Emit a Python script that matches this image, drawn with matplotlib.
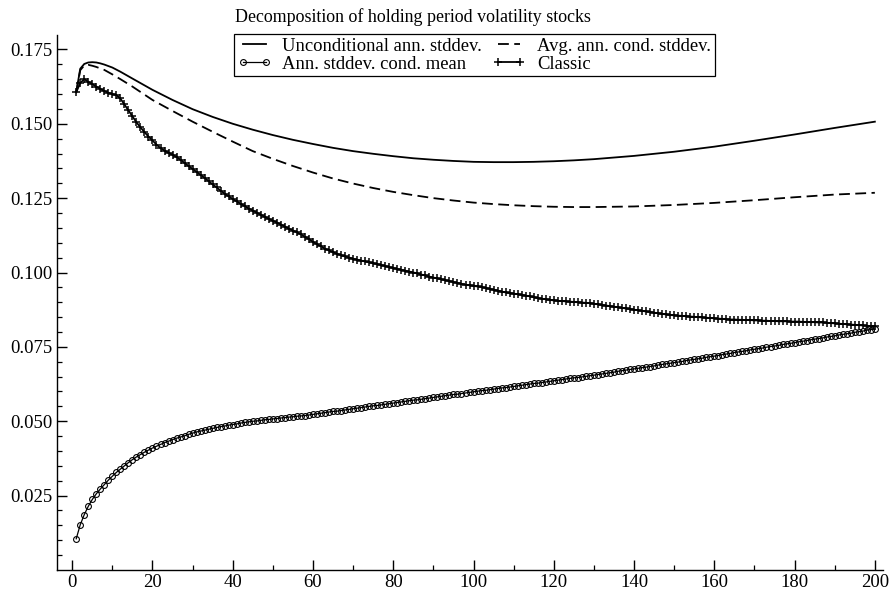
import numpy as np
import matplotlib
matplotlib.use('Agg')
import matplotlib.pyplot as plt

plt.rcParams['font.family'] = ['Liberation Serif', 'DejaVu Serif']

# holding period (months)
horizon = np.arange(1, 201)

# unconditional / average conditional stddev, read at selected horizons
line_x = [1, 2, 3, 4, 5, 6, 7, 8, 10, 12, 15, 20, 25, 30, 35, 40, 45, 50, 55, 60,
          65, 70, 75, 80, 85, 90, 95, 100, 105, 110, 115, 120, 125, 130, 140, 150,
          160, 170, 180, 190, 200]
uncond_sd = [.1606, .1685, .1701, .1706, .1707, .1706, .1703, .1699, .1689, .1675,
             .1652, .1614, .1580, .1549, .1523, .1500, .1480, .1462, .1446, .1432,
             .1419, .1408, .1399, .1391, .1384, .1379, .1375, .1372, .1371, .1371,
             .1372, .1374, .1377, .1381, .1392, .1406, .1423, .1443, .1464, .1486, .1507]
avg_cond_sd = [.1606, .1680, .1696, .1698, .1695, .1691, .1686, .1681, .1666, .1650,
               .1625, .1580, .1543, .1507, .1473, .1440, .1408, .1382, .1358, .1336,
               .1316, .1299, .1284, .1271, .1260, .1250, .1242, .1235, .1230, .1226,
               .1223, .1221, .1220, .1220, .1222, .1227, .1234, .1243, .1253, .1262, .1268]

cond_mean_sd = [
    .0105, .0152, .0186, .0214, .0237, .0256, .0272, .0287, .0302, .0315,
    .0328, .0339, .0350, .0361, .0371, .0380, .0388, .0396, .0403, .0410,
    .0416, .0422, .0428, .0433, .0438, .0443, .0447, .0451, .0456, .0460,
    .0464, .0467, .0470, .0473, .0476, .0479, .0482, .0484, .0487, .0489,
    .0491, .0494, .0496, .0498, .0500, .0501, .0503, .0505, .0506, .0508,
    .0509, .0511, .0512, .0514, .0515, .0517, .0518, .0519, .0521, .0523,
    .0525, .0527, .0529, .0531, .0533, .0534, .0536, .0538, .0540, .0542,
    .0544, .0546, .0548, .0550, .0552, .0553, .0555, .0557, .0559, .0561,
    .0563, .0565, .0567, .0569, .0571, .0572, .0574, .0576, .0578, .0580,
    .0582, .0584, .0586, .0588, .0590, .0591, .0593, .0595, .0597, .0599,
    .0601, .0603, .0604, .0606, .0608, .0610, .0612, .0613, .0615, .0617,
    .0619, .0621, .0623, .0625, .0627, .0628, .0630, .0632, .0634, .0636,
    .0638, .0640, .0642, .0644, .0646, .0647, .0649, .0651, .0653, .0655,
    .0657, .0659, .0661, .0663, .0665, .0668, .0670, .0672, .0674, .0676,
    .0678, .0680, .0682, .0684, .0686, .0689, .0691, .0693, .0695, .0697,
    .0699, .0701, .0704, .0706, .0708, .0710, .0712, .0715, .0717, .0719,
    .0721, .0724, .0726, .0728, .0731, .0733, .0735, .0737, .0740, .0742,
    .0744, .0746, .0749, .0751, .0753, .0755, .0758, .0760, .0762, .0764,
    .0767, .0769, .0771, .0774, .0776, .0778, .0780, .0783, .0785, .0787,
    .0790, .0792, .0794, .0796, .0799, .0801, .0803, .0806, .0808, .0810]

classic_sd = [
    .1606, .1637, .1650, .1641, .1633, .1625, .1617, .1610, .1604, .1600,
    .1596, .1585, .1565, .1545, .1525, .1505, .1488, .1472, .1457, .1444,
    .1430, .1418, .1410, .1402, .1396, .1388, .1379, .1368, .1358, .1348,
    .1338, .1328, .1318, .1307, .1296, .1286, .1275, .1265, .1256, .1247,
    .1239, .1231, .1223, .1215, .1208, .1201, .1194, .1187, .1180, .1174,
    .1168, .1161, .1154, .1147, .1141, .1135, .1128, .1120, .1112, .1103,
    .1095, .1088, .1080, .1074, .1068, .1063, .1058, .1054, .1050, .1046,
    .1043, .1040, .1037, .1034, .1031, .1028, .1025, .1022, .1018, .1015,
    .1012, .1009, .1006, .1003, .1000, .0997, .0993, .0990, .0986, .0983,
    .0980, .0977, .0974, .0971, .0968, .0965, .0962, .0959, .0957, .0955,
    .0953, .0951, .0948, .0945, .0942, .0939, .0936, .0933, .0931, .0929,
    .0927, .0925, .0922, .0920, .0917, .0914, .0912, .0910, .0908, .0906,
    .0905, .0904, .0903, .0902, .0901, .0900, .0899, .0898, .0897, .0895,
    .0893, .0891, .0889, .0887, .0885, .0883, .0881, .0879, .0877, .0875,
    .0873, .0871, .0869, .0867, .0865, .0863, .0861, .0859, .0857, .0856,
    .0855, .0854, .0853, .0852, .0851, .0850, .0849, .0848, .0847, .0846,
    .0845, .0844, .0843, .0842, .0842, .0841, .0841, .0840, .0840, .0839,
    .0839, .0838, .0838, .0837, .0837, .0836, .0836, .0836, .0835, .0835,
    .0835, .0834, .0834, .0833, .0833, .0832, .0832, .0831, .0830, .0829,
    .0828, .0827, .0826, .0825, .0824, .0823, .0822, .0821, .0820, .0819]

fs = 13.5      # tick labels
fs_title = 12.9
fs_leg = 13.4

fig = plt.figure(figsize=(8.9, 5.93), dpi=100)
ax = fig.add_axes([0.064, 0.0388, 0.928, 0.903])

l_unc, = ax.plot(line_x, uncond_sd, color='black', lw=1.3, label='Unconditional ann. stddev.')
l_avg, = ax.plot(line_x, avg_cond_sd, color='black', lw=1.3, ls=(0, (6, 3)),
                 label='Avg. ann. cond. stddev.')
l_mean, = ax.plot(horizon, cond_mean_sd, color='black', lw=0.9, marker='o', ms=4.2,
                  mfc='none', mew=0.8, label='Ann. stddev. cond. mean')
l_cls, = ax.plot(horizon, classic_sd, color='black', lw=1.3, marker='+', ms=6, mew=1.1,
                 label='Classic')

ax.set_xlim(-3.8, 202)
ax.set_ylim(0, 0.18)
ax.set_xticks(np.arange(0, 201, 20))
ax.set_xticks(np.arange(10, 201, 20), minor=True)
ax.set_yticks(np.arange(0.025, 0.176, 0.025))
ax.set_yticks(np.arange(0.005, 0.18, 0.005), minor=True)
ax.yaxis.set_major_formatter(matplotlib.ticker.FormatStrFormatter('%.3f'))

for side in ['top', 'right']:
    ax.spines[side].set_visible(False)
for side in ['left', 'bottom']:
    ax.spines[side].set_linewidth(1.0)

ax.tick_params(axis='both', which='major', direction='in', length=7, width=1.0, labelsize=fs)
ax.tick_params(axis='both', which='minor', direction='in', length=3.5, width=0.9)
ax.tick_params(axis='x', pad=3)

fig.text(235 / 890, 1 - 17 / 593, 'Decomposition of holding period volatility stocks',
         ha='left', va='center', fontsize=fs_title)

# column-wise fill: first column uncond / cond mean, second avg / classic
handles = [l_unc, l_mean, l_avg, l_cls]
leg = ax.legend(handles, [h.get_label() for h in handles], ncol=2, loc='upper left',
                bbox_to_anchor=(234 / 890, 1 - 34 / 593),
                bbox_transform=fig.transFigure, borderaxespad=0, fontsize=fs_leg,
                frameon=True, fancybox=False, edgecolor='black', framealpha=1,
                handlelength=1.8, handletextpad=0.6, columnspacing=0.55,
                labelspacing=0.05, borderpad=0.2, numpoints=2)
leg.get_frame().set_linewidth(0.9)

fig.savefig('out.png', dpi=100)
